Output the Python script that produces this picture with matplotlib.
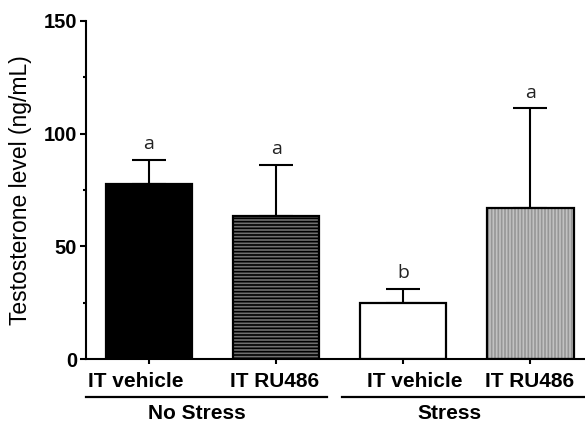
import matplotlib.pyplot as plt
import numpy as np

# values
groups = ['IT vehicle', 'IT RU486', 'IT vehicle', 'IT RU486']
means = [77.7, 63.5, 25.0, 67.0]
sem_up = [10.6, 22.6, 6.2, 44.3]
letters = ['a', 'a', 'b', 'a']
conditions = ['No Stress', 'Stress']

face = ['black', '#707070', 'white', '#c2c2c2']
hatches = [None, '-----', None, '|||||']
hatch_col = ['black', 'black', 'white', '#969696']

plt.rcParams['font.family'] = ['Liberation Sans', 'DejaVu Sans']
plt.rcParams['hatch.linewidth'] = 1.2

fig = plt.figure(figsize=(5.85, 4.25), dpi=100)
ax = fig.add_axes([0.147, 0.155, 0.853, 0.796])

x = np.arange(len(means))
w = 0.68

# fill + hatch first, then black outline on top
for i in range(len(means)):
    ax.bar(x[i], means[i], w, color=face[i], hatch=hatches[i],
           edgecolor=hatch_col[i], linewidth=0, zorder=2)
ax.bar(x, means, w, fill=False, edgecolor='black', linewidth=1.6, zorder=3)

ax.errorbar(x, means, yerr=[np.zeros(len(means)), sem_up], fmt='none',
            ecolor='black', elinewidth=1.5, capsize=12.5, capthick=1.5, zorder=1)

for i in range(len(means)):
    ax.text(x[i], means[i] + sem_up[i] + 4.7, letters[i], ha='center',
            va='baseline', fontsize=14, family='Open Sans', color='#222222')

ax.set_xlim(-0.496, 3.43)
ax.set_ylim(0, 150)
ax.set_yticks([0, 50, 100, 150])
ax.set_yticks([25, 75, 125], minor=True)
ax.set_xticks(x)
ax.set_xticklabels([''] * len(x))

for s in ['top', 'right']:
    ax.spines[s].set_visible(False)
for s in ['left', 'bottom']:
    ax.spines[s].set_linewidth(1.5)

ax.tick_params(axis='y', which='major', length=4.5, width=1.5, pad=2,
               labelsize=14.5)
ax.tick_params(axis='y', which='minor', length=2.5, width=1.5)
ax.tick_params(axis='x', length=3.5, width=1.5)
for lab in ax.get_yticklabels():
    lab.set_fontweight('bold')

ax.set_ylabel('Testosterone level (ng/mL)', fontsize=16.5)
ax.yaxis.set_label_coords(-0.108, 0.5)

# group labels under the axis
label_x = [-0.106, 0.99, 2.09, 2.99]
for xi, g in zip(label_x, groups):
    ax.text(xi, -5.6, g, ha='center', va='top', fontsize=15,
            fontweight='bold', clip_on=False)

line_spans = [(-0.496, 1.40), (1.52, 3.43)]
cond_x = [0.38, 2.366]
for (a, b), cx, c in zip(line_spans, cond_x, conditions):
    ax.plot([a, b], [-16.7, -16.7], color='black', lw=1.6, clip_on=False)
    ax.text(cx, -26.4, c, ha='center', va='baseline', fontsize=15,
            fontweight='bold', clip_on=False)

fig.savefig('out.png', dpi=100)
